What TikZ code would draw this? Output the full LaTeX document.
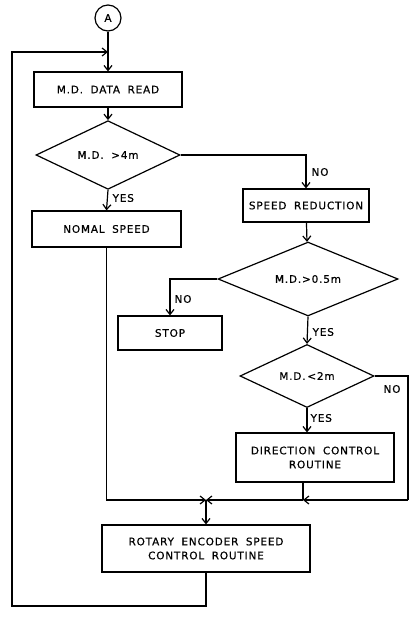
\documentclass[tikz,border=0pt]{standalone}
\usepackage{fontspec}
\setmainfont[LetterSpace=8,WordSpace=1.8,FakeBold=0.6]{DejaVu Sans}
\usetikzlibrary{arrows.meta,shapes.geometric}
\begin{document}
\begin{tikzpicture}[x=1bp,y=-1bp,line width=1.2bp,
  txt/.style={font=\fontsize{10.5}{14}\selectfont},
  box/.style={draw,rectangle,inner sep=0pt,align=center,txt},
  dia/.style={draw,diamond,inner sep=0pt,txt},
  arr/.style={-{Straight Barb[length=5bp,width=8bp]}},
  lbl/.style={inner sep=0pt,txt}]
\useasboundingbox (0,0) rectangle (411,617);
\node[draw,circle,minimum size=26bp,inner sep=0pt,txt] (A) at (108,18) {A};
\node[box,minimum width=148bp,minimum height=35bp] (read) at (108,89.5) {M.D. DATA READ};
\node[dia,minimum width=144bp,minimum height=64bp] (d1) at (108,155) {M.D. >4m};
\node[box,minimum width=149bp,minimum height=36bp] (nomal) at (106.5,229) {NOMAL SPEED};
\node[box,minimum width=126bp,minimum height=33bp] (sred) at (306,205.5) {SPEED REDUCTION};
\node[dia,minimum width=180bp,minimum height=60bp] (d2) at (308,279) {M.D.>0.5m};
\node[box,minimum width=104bp,minimum height=34bp] (stop) at (170,333) {STOP};
\node[dia,minimum width=134bp,minimum height=60bp] (d3) at (307,376) {M.D.\,<2m};
\node[box,minimum width=158bp,minimum height=49bp] (dir) at (315,457.5) {DIRECTION CONTROL\\ROUTINE};
\node[box,minimum width=208bp,minimum height=47bp] (rot) at (206,548.5) {ROTARY ENCODER SPEED\\CONTROL ROUTINE};
\coordinate (L) at (108,52);
\coordinate (lt) at (12,52);
\coordinate (lb) at (12,606);
\coordinate (J) at (206,500);
\coordinate (dj) at (303,500);
\coordinate (rc) at (408,376);
\coordinate (rb) at (408,500);
% main flow
\draw[arr] (A) -- (read);
\draw[arr] (read) -- (d1);
\draw[arr] (d1.south) -- (nomal.north);
\draw[arr] (d1.east) -- (d1.east -| sred.north) -- (sred.north);
\draw[arr] (sred) -- (d2);
\draw[arr] (d2.west) -| (stop.north);
\draw[arr] (d2.south) -- (d3.north);
\draw[arr] (d3.south) -- (d3.south |- dir.north);
\draw (d3.east) -- (rc) -- (rb);
\draw[arr] (rb) -- (dj);
\draw (dj |- dir.south) -- (dj);
\draw[arr] (dj) -- (J);
\draw[arr] (nomal.south) |- (J);
\draw[arr] (J) -- (rot.north);
\draw[arr] (rot.south) |- (lb) -- (lt) -- (L);
% labels
\node[lbl,anchor=west] (n1) at (311,172) {NO};
\node[lbl,anchor=west] (y1) at (112,198) {YES};
\node[lbl,anchor=west] (n2) at (174,299) {NO};
\node[lbl,anchor=west] (y2) at (312,332) {YES};
\node[lbl,anchor=west] (n3) at (383,389) {NO};
\node[lbl,anchor=west] (y3) at (310,418) {YES};
\end{tikzpicture}
\end{document}
